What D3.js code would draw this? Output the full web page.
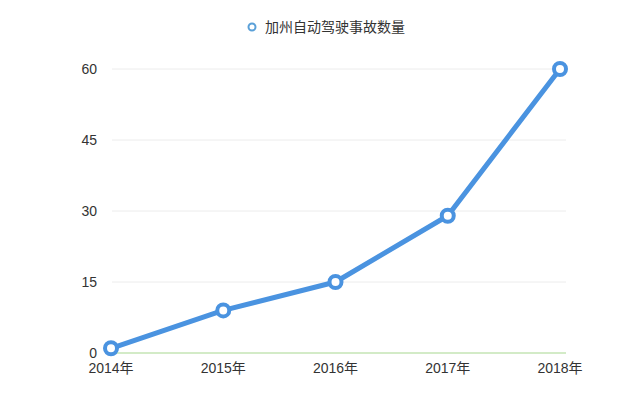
<!DOCTYPE html>
<html>
<head>
<meta charset="utf-8">
<script src="https://cdn.jsdelivr.net/npm/d3@7"></script>
<style>
  body { margin: 0; background: #fff; }
  text { font-family: "Liberation Sans", "Noto Sans CJK SC", sans-serif; }
</style>
</head>
<body>
<svg id="svg"></svg>
<script>
// data
let years = ['2014年', '2015年', '2016年', '2017年', '2018年'];
let accidents = [1, 9, 15, 29, 60];
let yTicks = [0, 15, 30, 45, 60];
let seriesName = '加州自动驾驶事故数量';

let width = 640, height = 408;
let svg = d3.select('#svg').attr('width', width).attr('height', height);

let x = d3.scalePoint().domain(years).range([111, 560]);
let y = d3.scaleLinear().domain([0, 60]).range([353, 69]);

// grid lines
svg.append('g').selectAll('line')
    .data(yTicks.filter(d => d > 0))
    .join('line')
    .attr('x1', 112).attr('x2', 566)
    .attr('y1', d => y(d)).attr('y2', d => y(d))
    .attr('stroke', '#ececec')
    .attr('stroke-width', 1);

// baseline (green)
svg.append('line')
    .attr('x1', 111).attr('x2', 566)
    .attr('y1', y(0)).attr('y2', y(0))
    .attr('stroke', '#a8d890')
    .attr('stroke-width', 1.2);

// y labels
svg.append('g').selectAll('text')
    .data(yTicks)
    .join('text')
    .attr('x', 97)
    .attr('y', d => y(d) + 5)
    .attr('text-anchor', 'end')
    .attr('font-size', 14)
    .attr('fill', '#333')
    .text(d => d);

// x labels
svg.append('g').selectAll('text')
    .data(years)
    .join('text')
    .attr('x', d => x(d))
    .attr('y', 373)
    .attr('text-anchor', 'middle')
    .attr('font-size', 14)
    .attr('fill', '#333')
    .text(d => d);

let blue = '#4a93e0';

let line = d3.line()
    .x((d, i) => x(years[i]))
    .y(d => y(d));

svg.append('path')
    .datum(accidents)
    .attr('d', line)
    .attr('fill', 'none')
    .attr('stroke', blue)
    .attr('stroke-width', 5)
    .attr('stroke-linejoin', 'round');

svg.append('g').selectAll('circle')
    .data(accidents)
    .join('circle')
    .attr('cx', (d, i) => x(years[i]))
    .attr('cy', d => y(d))
    .attr('r', 6)
    .attr('fill', '#fff')
    .attr('stroke', blue)
    .attr('stroke-width', 4);

// legend
let legend = svg.append('g');
legend.append('circle')
    .attr('cx', 252).attr('cy', 27)
    .attr('r', 3.5)
    .attr('fill', '#fff')
    .attr('stroke', '#5aa0d8')
    .attr('stroke-width', 2);
legend.append('text')
    .attr('x', 265).attr('y', 32)
    .attr('font-size', 14)
    .attr('font-family', '"Noto Sans CJK SC", sans-serif')
    .attr('fill', '#333')
    .text(seriesName);
</script>
</body>
</html>
